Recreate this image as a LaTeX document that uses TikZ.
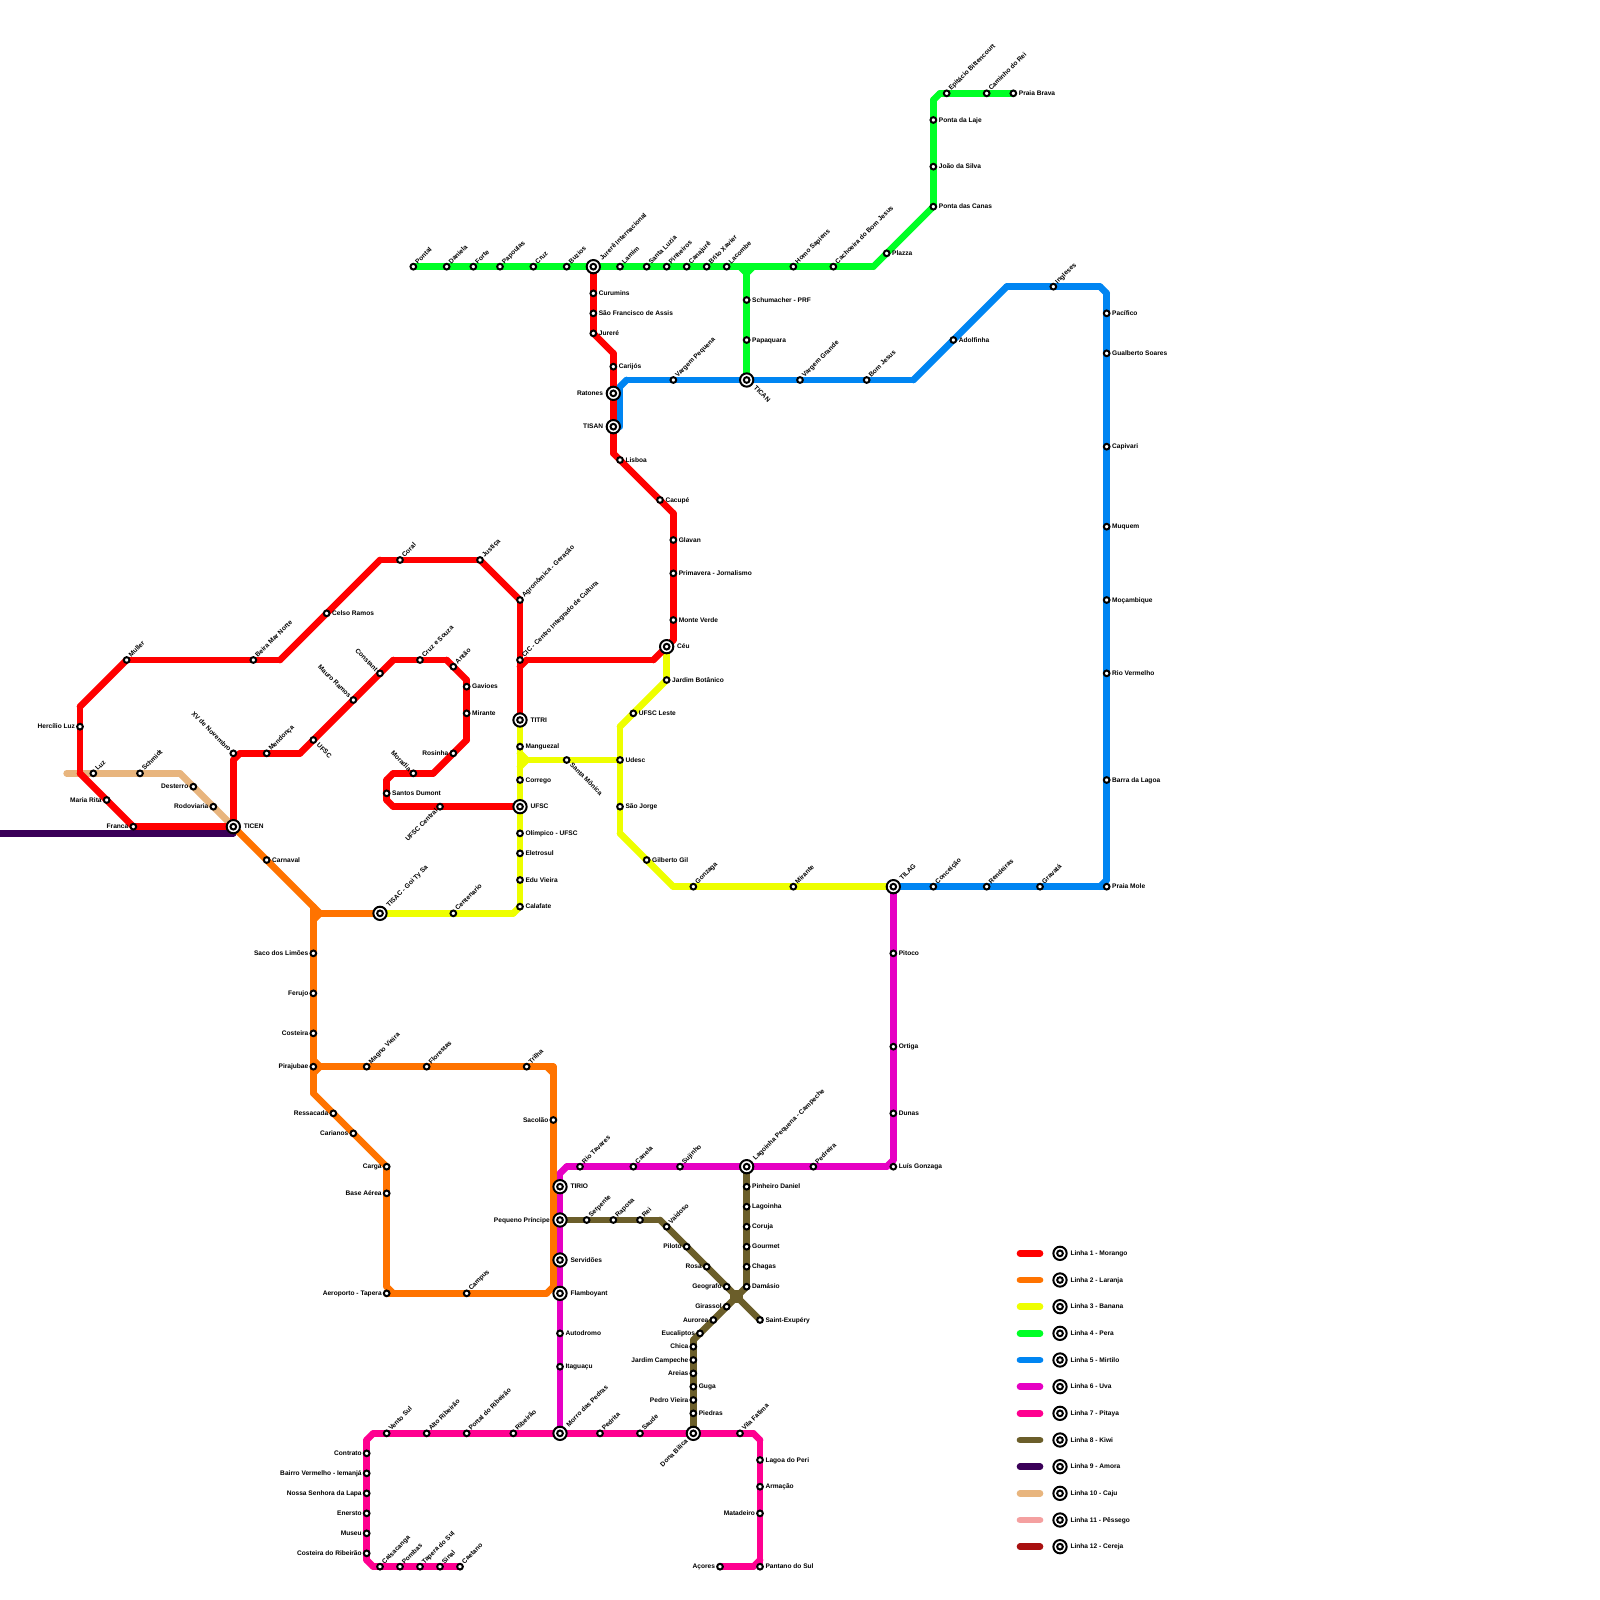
\documentclass[tikz,border=0pt]{standalone}
\usepackage{fontspec}
\setmainfont{Liberation Sans}
\usetikzlibrary{calc}
\pgfdeclarelayer{lines}
\pgfsetlayers{lines,main}
\definecolor{cmorango}{HTML}{FF0000}
\definecolor{claranja}{HTML}{FF7300}
\definecolor{cbanana}{HTML}{EEFF00}
\definecolor{cpera}{HTML}{00FF26}
\definecolor{cmirtilo}{HTML}{0085F2}
\definecolor{cuva}{HTML}{E600C3}
\definecolor{cpitaya}{HTML}{FF0090}
\definecolor{ckiwi}{HTML}{6B5E2A}
\definecolor{camora}{HTML}{3A0058}
\definecolor{ccaju}{HTML}{E8B57E}
\definecolor{cpessego}{HTML}{F4A0A0}
\definecolor{ccereja}{HTML}{A81010}
\def\offR{5.5pt,-2.1pt}\def\offL{-5pt,-2.1pt}\def\offNE{4.6pt,2.4pt}\def\offSE{3pt,-5.7pt}\def\offNW{-4.9pt,1.6pt}\def\offSW{-1.9pt,-5pt}
\def\ioffR{10.5pt,-2.1pt}\def\ioffL{-10.3pt,-2.1pt}\def\ioffNE{9pt,6pt}\def\ioffSE{6.8pt,-8.3pt}\def\ioffNW{-8.4pt,5pt}\def\ioffSW{-5pt,-8.4pt}
\tikzset{
 tline/.style={line width=6.67pt,line cap=round,line join=round},
 stn/.style={circle,draw=black,fill=white,line width=2pt,minimum size=5.7pt,inner sep=0pt,outer sep=0pt},
 ichg/.style={circle,draw=black,fill=white,line width=2pt,minimum size=13.3pt,inner sep=0pt,outer sep=0pt},
 lbl/.style={inner sep=0pt,outer sep=0pt,text=black,font=\fontsize{6.6}{7}\selectfont\bfseries},
 dirR/.style={anchor=base west},
 dirL/.style={anchor=base east},
 dirNE/.style={anchor=base west,rotate=45},
 dirSE/.style={anchor=base west,rotate=-45},
 dirNW/.style={anchor=base east,rotate=-45},
 dirSW/.style={anchor=base east,rotate=45},
}
\newcommand\st[5]{\node[stn] (#1) at (#2,#3) {};\node[lbl,dir#4] (#1-l) at ([shift={(\csname off#4\endcsname)}]#1.center) {#5};}
\newcommand\ic[5]{\node[ichg] (#1) at (#2,#3) {};\node[stn] (#1-i) at (#1.center) {};\node[lbl,dir#4] (#1-l) at ([shift={(\csname ioff#4\endcsname)}]#1.center) {#5};}
\newcommand\route[3]{\begin{pgfonlayer}{lines}\foreach \p [remember=\p as \q (initially #2)] in {#3}{\draw[tline,#1] (\q.center) -- (\p.center);}\end{pgfonlayer}}
\newcommand\pt[3]{\coordinate (#1) at (#2,#3);}
\begin{document}
\begin{tikzpicture}[x=6.66667pt,y=-6.66667pt]
\useasboundingbox (0,0) rectangle (240,240);
% interchanges
\ic{ticen}{35}{124}{R}{TICEN}
\ic{titri}{78}{108}{R}{TITRI}
\ic{ufsc}{78}{121}{R}{UFSC}
\ic{tisac}{57}{137}{NE}{TISAC - Goi Ty Sa}
\ic{jint}{89}{40}{NE}{Jurerê Internacional}
\ic{ratones}{92}{59}{L}{Ratones}
\ic{tisan}{92}{64}{L}{TISAN}
\ic{ceu}{100}{97}{R}{Céu}
\ic{tican}{112}{57}{SE}{TICAN}
\ic{tilag}{134}{133}{NE}{TILAG}
\ic{lagped}{112}{175}{NE}{Lagoinha Pequena - Campeche}
\ic{tirio}{84}{178}{R}{TIRIO}
\ic{pprinc}{84}{183}{L}{Pequeno Príncipe}
\ic{servid}{84}{189}{R}{Servidões}
\ic{flamb}{84}{194}{R}{Flamboyant}
\ic{morro}{84}{215}{NE}{Morro das Pedras}
\ic{dbilica}{104}{215}{SW}{Dona Bilica}
% line 1
\st{muller}{19}{99}{NE}{Muller}
\st{beira}{38}{99}{NE}{Beira Mar Norte}
\st{celso}{49}{92}{R}{Celso Ramos}
\st{coral}{60}{84}{NE}{Coral}
\st{justica}{72}{84}{NE}{Justiça}
\st{agron}{78}{90}{NE}{Agronômica - Geração}
\st{cic}{78}{99}{NE}{CIC - Centro Integrado de Cultura}
\st{hercilio}{12}{109}{L}{Hercílio Luz}
\st{mrita}{16}{120}{L}{Maria Rita}
\st{franca}{20}{124}{L}{Franca}
\st{xv}{35}{113}{NW}{XV de Novembro}
\st{mendonca}{40}{113}{NE}{Mendonça}
\st{ufscs}{47}{111}{SE}{UFSC}
\st{mauro}{53}{105}{NW}{Mauro Ramos}
\st{constant}{57}{101}{NW}{Constant}
\st{cruz}{63}{99}{NE}{Cruz e Souza}
\st{antao}{68}{100}{NE}{Antão}
\st{gavioes}{70}{103}{R}{Gavioes}
\st{mirante}{70}{107}{R}{Mirante}
\st{rosinha}{68}{113}{L}{Rosinha}
\st{moradia}{62}{116}{NW}{Moradia}
\st{santos}{58}{119}{R}{Santos Dumont}
\st{ucentral}{66}{121}{SW}{UFSC Central}
\st{curumins}{89}{44}{R}{Curumins}
\st{saofr}{89}{47}{R}{São Francisco de Assis}
\st{jurere}{89}{50}{R}{Jureré}
\st{carijos}{92}{55}{R}{Carijós}
\st{lisboa}{93}{69}{R}{Lisboa}
\st{cacupe}{99}{75}{R}{Cacupé}
\st{glavan}{101}{81}{R}{Glavan}
\st{primavera}{101}{86}{R}{Primavera - Jornalismo}
\st{monteverde}{101}{93}{R}{Monte Verde}
% line 10
\st{luz}{14}{116}{NE}{Luz}
\st{schmidt}{21}{116}{NE}{Schmidt}
\st{desterro}{29}{118}{L}{Desterro}
\st{rodov}{32}{121}{L}{Rodoviaria}
% line 2
\st{carnaval}{40}{129}{R}{Carnaval}
\st{saco}{47}{143}{L}{Saco dos Limões}
\st{ferujo}{47}{149}{L}{Ferujo}
\st{costeira}{47}{155}{L}{Costeira}
\st{piraj}{47}{160}{L}{Pirajubae}
\st{magno}{55}{160}{NE}{Magno Vieira}
\st{florestas}{64}{160}{NE}{Florestas}
\st{trilha}{79}{160}{NE}{Trilha}
\st{sacolao}{83}{168}{L}{Sacolão}
\st{ressacada}{50}{167}{L}{Ressacada}
\st{carianos}{53}{170}{L}{Carianos}
\st{carga}{58}{175}{L}{Carga}
\st{baseaerea}{58}{179}{L}{Base Aérea}
\st{aeroporto}{58}{194}{L}{Aeroporto - Tapera}
\st{campus}{70}{194}{NE}{Campus}
% line 3
\st{manguezal}{78}{112}{R}{Manguezal}
\st{corrego}{78}{117}{R}{Corrego}
\st{olimpico}{78}{125}{R}{Olímpico - UFSC}
\st{eletrosul}{78}{128}{R}{Eletrosul}
\st{eduvieira}{78}{132}{R}{Edu Vieira}
\st{calafate}{78}{136}{R}{Calafate}
\st{centenario}{68}{137}{NE}{Centenario}
\st{smonica}{85}{114}{SE}{Santa Mônica}
\st{udesc}{93}{114}{R}{Udesc}
\st{jbotanico}{100}{102}{R}{Jardim Botânico}
\st{uleste}{95}{107}{R}{UFSC Leste}
\st{saojorge}{93}{121}{R}{São Jorge}
\st{gilberto}{97}{129}{R}{Gilberto Gil}
\st{gonzaga}{104}{133}{NE}{Gonzaga}
\st{mirantey}{119}{133}{NE}{Mirante}
% line 4
\st{pontal}{62}{40}{NE}{Pontal}
\st{daniela}{67}{40}{NE}{Daniela}
\st{forte}{71}{40}{NE}{Forte}
\st{papoulas}{75}{40}{NE}{Papoulas}
\st{cruzg}{80}{40}{NE}{Cruz}
\st{buzios}{85}{40}{NE}{Buzios}
\st{lamim}{93}{40}{NE}{Lamim}
\st{sluzia}{97}{40}{NE}{Santa Luzia}
\st{pinheiros}{100}{40}{NE}{Pinheiros}
\st{canajure}{103}{40}{NE}{Canajurê}
\st{brito}{106}{40}{NE}{Brito Xavier}
\st{lacombe}{109}{40}{NE}{Lacombe}
\st{homo}{119}{40}{NE}{Homo Sapiens}
\st{cachoeira}{125}{40}{NE}{Cachoeira do Bom Jesus}
\st{plazza}{133}{38}{R}{Plazza}
\st{pcanas}{140}{31}{R}{Ponta das Canas}
\st{jsilva}{140}{25}{R}{João da Silva}
\st{plaje}{140}{18}{R}{Ponta da Laje}
\st{epitacio}{142}{14}{NE}{Epitácio Bittencourt}
\st{caminho}{148}{14}{NE}{Caminho do Rei}
\st{pbrava}{152}{14}{R}{Praia Brava}
\st{schum}{112}{45}{R}{Schumacher - PRF}
\st{papaq}{112}{51}{R}{Papaquara}
% line 5
\st{vpequena}{101}{57}{NE}{Vargem Pequena}
\st{vgrande}{120}{57}{NE}{Vargem Grande}
\st{bomjesus}{130}{57}{NE}{Bom Jesus}
\st{adolf}{143}{51}{R}{Adolfinha}
\st{ingleses}{158}{43}{NE}{Ingleses}
\st{pacifico}{166}{47}{R}{Pacífico}
\st{gualberto}{166}{53}{R}{Gualberto Soares}
\st{capivari}{166}{67}{R}{Capivari}
\st{muquem}{166}{79}{R}{Muquem}
\st{mocamb}{166}{90}{R}{Moçambique}
\st{riover}{166}{101}{R}{Rio Vermelho}
\st{barra}{166}{117}{R}{Barra da Lagoa}
\st{pmole}{166}{133}{R}{Praia Mole}
\st{conceicao}{140}{133}{NE}{Conceição}
\st{rendeiras}{148}{133}{NE}{Rendeiras}
\st{gravata}{156}{133}{NE}{Gravatá}
% line 6
\st{pitoco}{134}{143}{R}{Pitoco}
\st{ortiga}{134}{157}{R}{Ortiga}
\st{dunas}{134}{167}{R}{Dunas}
\st{lgonzaga}{134}{175}{R}{Luís Gonzaga}
\st{pedreira}{122}{175}{NE}{Pedreira}
\st{sujinho}{102}{175}{NE}{Sujinho}
\st{canela}{95}{175}{NE}{Canela}
\st{rtavares}{87}{175}{NE}{Rio Tavares}
\st{autodromo}{84}{200}{R}{Autodromo}
\st{itaguacu}{84}{205}{R}{Itaguaçu}
% line 8
\st{serpente}{88}{183}{NE}{Serpente}
\st{raposa}{92}{183}{NE}{Raposa}
\st{rei}{96}{183}{NE}{Rei}
\st{vaidoso}{100}{184}{NE}{Vaidoso}
\st{piloto}{103}{187}{L}{Piloto}
\st{rosa}{106}{190}{L}{Rosa}
\st{geografo}{109}{193}{L}{Geografo}
\st{saintex}{114}{198}{R}{Saint-Exupéry}
\st{pdaniel}{112}{178}{R}{Pinheiro Daniel}
\st{lagoinha}{112}{181}{R}{Lagoinha}
\st{coruja}{112}{184}{R}{Coruja}
\st{gourmet}{112}{187}{R}{Gourmet}
\st{chagas}{112}{190}{R}{Chagas}
\st{damasio}{112}{193}{R}{Damásio}
\st{girassol}{109}{196}{L}{Girassol}
\st{aurorea}{107}{198}{L}{Aurorea}
\st{eucal}{105}{200}{L}{Eucaliptos}
\st{chica}{104}{202}{L}{Chica}
\st{jcampeche}{104}{204}{L}{Jardim Campeche}
\st{areias}{104}{206}{L}{Areias}
\st{guga}{104}{208}{R}{Guga}
\st{pvieira}{104}{210}{L}{Pedro Vieira}
\st{piedras}{104}{212}{R}{Piedras}
% line 7
\st{ventosul}{58}{215}{NE}{Vento Sul}
\st{altorib}{64}{215}{NE}{Alto Ribeirão}
\st{portalrib}{70}{215}{NE}{Portal do Ribeirão}
\st{ribeirao}{77}{215}{NE}{Ribeirão}
\st{pedrita}{90}{215}{NE}{Pedrita}
\st{saude}{96}{215}{NE}{Saude}
\st{vfatima}{111}{215}{NE}{Vila Fatima}
\st{lperi}{114}{219}{R}{Lagoa do Peri}
\st{armacao}{114}{223}{R}{Armação}
\st{matadeiro}{114}{227}{L}{Matadeiro}
\st{pantano}{114}{235}{R}{Pantano do Sul}
\st{acores}{108}{235}{L}{Açores}
\st{contrato}{55}{218}{L}{Contrato}
\st{bvermelho}{55}{221}{L}{Bairro Vermelho - Iemanjá}
\st{nslapa}{55}{224}{L}{Nossa Senhora da Lapa}
\st{enersto}{55}{227}{L}{Enersto}
\st{museu}{55}{230}{L}{Museu}
\st{costrib}{55}{233}{L}{Costeira do Ribeirão}
\st{calsac}{57}{235}{NE}{Calsacanga}
\st{pombas}{60}{235}{NE}{Pombas}
\st{tapera}{63}{235}{NE}{Tapera do Sul}
\st{sinal}{66}{235}{NE}{Sinal}
\st{caetano}{69}{235}{NE}{Caetano}
% bends
\pt{cj0}{10}{116}\pt{cj1}{27}{116}
\pt{am0}{0}{125}\pt{am1}{35}{125}
\pt{ra}{12}{116}\pt{rb}{12}{106}\pt{rc}{42}{99}\pt{rd}{57}{84}
\pt{re}{35}{114}\pt{rf}{36}{113}\pt{rg}{45}{113}\pt{rh}{59}{99}\pt{ri}{67}{99}\pt{rj}{70}{102}\pt{rk}{70}{111}\pt{rl}{65}{116}\pt{rm}{59}{116}\pt{rn}{58}{117}\pt{ro}{58}{120}\pt{rp}{59}{121}
\pt{rq}{92}{53}\pt{rr}{92}{68}\pt{rs}{101}{77}\pt{rt}{101}{96}\pt{ru}{98}{99}\pt{rv}{79}{99}\pt{rw}{78}{100}
\pt{oa}{47}{136}\pt{ob}{48}{137}\pt{oc}{47}{138}\pt{od}{47}{161}\pt{oe}{48}{160}\pt{of}{47}{164}\pt{og}{82}{160}\pt{oh}{83}{161}\pt{oi}{83}{193}\pt{oj}{82}{194}\pt{ok}{58}{193}\pt{ol}{59}{194}\pt{om}{47}{159}\pt{on}{83}{160}
\pt{ya}{77}{137}\pt{yb}{78}{113}\pt{yc}{79}{114}\pt{yd}{78}{115}\pt{ye}{93}{109}\pt{yf}{93}{125}\pt{yg}{101}{133}
\pt{ga}{111}{40}\pt{gb}{113}{40}\pt{gc}{112}{41}\pt{gd}{131}{40}\pt{ge}{140}{15}\pt{gf}{141}{14}
\pt{ba}{93}{64}\pt{bb}{93}{58}\pt{bc}{94}{57}\pt{bd}{137}{57}\pt{be}{151}{43}\pt{bf}{165}{43}\pt{bg}{166}{44}\pt{bh}{166}{132}\pt{bi}{165}{133}
\pt{ma}{84}{176}\pt{mb}{85}{175}\pt{mc}{133}{175}\pt{md}{134}{174}
\pt{pa}{113}{215}\pt{pb}{114}{216}\pt{pc}{114}{234}\pt{pd}{113}{235}\pt{pe}{56}{215}\pt{pf}{55}{216}\pt{pg}{55}{234}\pt{ph}{56}{235}
\pt{ka}{99}{183}\pt{kb}{104}{201}\pt{kc}{110}{194}\pt{kd}{111}{194}\pt{ke}{111}{195}\pt{kf}{110}{195}
% routes
\route{ccaju}{cj0}{luz,schmidt,cj1,desterro,rodov,ticen}
\route{camora}{am0}{am1}
\route{claranja}{ticen}{carnaval,oa,ob,tisac}
\route{claranja}{oa}{oc}
\route{claranja}{ob}{oc,saco,ferujo,costeira,piraj,od,of,ressacada,carianos,carga,baseaerea,ok,ol,aeroporto}
\route{claranja}{aeroporto}{campus,oj,oi,sacolao,oh,og,trilha,florestas,magno,oe,od}
\route{claranja}{oe}{om}
\route{claranja}{og}{on,oh}
\route{cbanana}{tisac}{centenario,ya,calafate,eduvieira,eletrosul,olimpico,ufsc,corrego,yd,yb,manguezal,titri}
\route{cbanana}{yd}{yc,yb}
\route{cbanana}{yc}{smonica,udesc}
\route{cbanana}{ceu}{jbotanico,uleste,ye,udesc,saojorge,yf,gilberto,yg,gonzaga,mirantey,tilag}
\route{cpera}{pontal}{daniela,forte,papoulas,cruzg,buzios,jint,lamim,sluzia,pinheiros,canajure,brito,lacombe,ga,gb,homo,cachoeira,gd,plazza,pcanas,jsilva,plaje,ge,gf,epitacio,caminho,pbrava}
\route{cpera}{ga}{gc,gb}
\route{cpera}{gc}{schum,papaq,tican}
\route{cmirtilo}{ba}{bb,bc,vpequena,tican,vgrande,bomjesus,bd,adolf,be,ingleses,bf,bg,pacifico,gualberto,capivari,muquem,mocamb,riover,barra,bh,bi,pmole,gravata,rendeiras,conceicao,tilag}
\route{cmorango}{ticen}{franca,mrita,ra,hercilio,rb,muller,beira,rc,celso,rd,coral,justica,agron,cic,titri}
\route{cmorango}{ticen}{re,rf,mendonca,rg,ufscs,mauro,constant,rh,cruz,ri,antao,rj,gavioes,mirante,rk,rosinha,rl,moradia,rm,rn,santos,ro,rp,ucentral,ufsc}
\route{cmorango}{jint}{curumins,saofr,jurere,rq,carijos,ratones,tisan,rr,lisboa,cacupe,rs,glavan,primavera,monteverde,rt,ceu,ru,rv,rw}
\route{cuva}{morro}{itaguacu,autodromo,flamb,servid,pprinc,tirio,ma,mb,rtavares,canela,sujinho,lagped,pedreira,mc,md,dunas,ortiga,pitoco,tilag}
\route{ckiwi}{pprinc}{serpente,raposa,rei,ka,vaidoso,piloto,rosa,geografo,saintex}
\route{ckiwi}{lagped}{pdaniel,lagoinha,coruja,gourmet,chagas,damasio,girassol,aurorea,eucal,kb,chica,jcampeche,areias,guga,pvieira,piedras,dbilica}
\route{ckiwi}{kc}{kd,ke,kf,kc}
\route{cpitaya}{acores}{pd,pc,matadeiro,armacao,lperi,pb,pa,vfatima,dbilica,saude,pedrita,morro,ribeirao,portalrib,altorib,ventosul,pe,pf,contrato,bvermelho,nslapa,enersto,museu,costrib,pg,ph,calsac,pombas,tapera,sinal,caetano}
\route{cpitaya}{pc}{pantano}
% legend
\foreach \c/\n/\t [count=\i from 0] in {cmorango/1/Morango,claranja/2/Laranja,cbanana/3/Banana,cpera/4/Pera,cmirtilo/5/Mirtilo,cuva/6/Uva,cpitaya/7/Pitaya,ckiwi/8/Kiwi,camora/9/Amora,ccaju/10/Caju,cpessego/11/Pêssego,ccereja/12/Cereja}{
 \pgfmathtruncatemacro\yy{188+4*\i}
 \coordinate (lga\n) at (153,\yy);\coordinate (lgb\n) at (156,\yy);
 \draw[tline,\c] (lga\n) -- (lgb\n);
 \ic{leg\n}{159}{\yy}{R}{Linha \n{} - \t}
}
\end{tikzpicture}
\end{document}
